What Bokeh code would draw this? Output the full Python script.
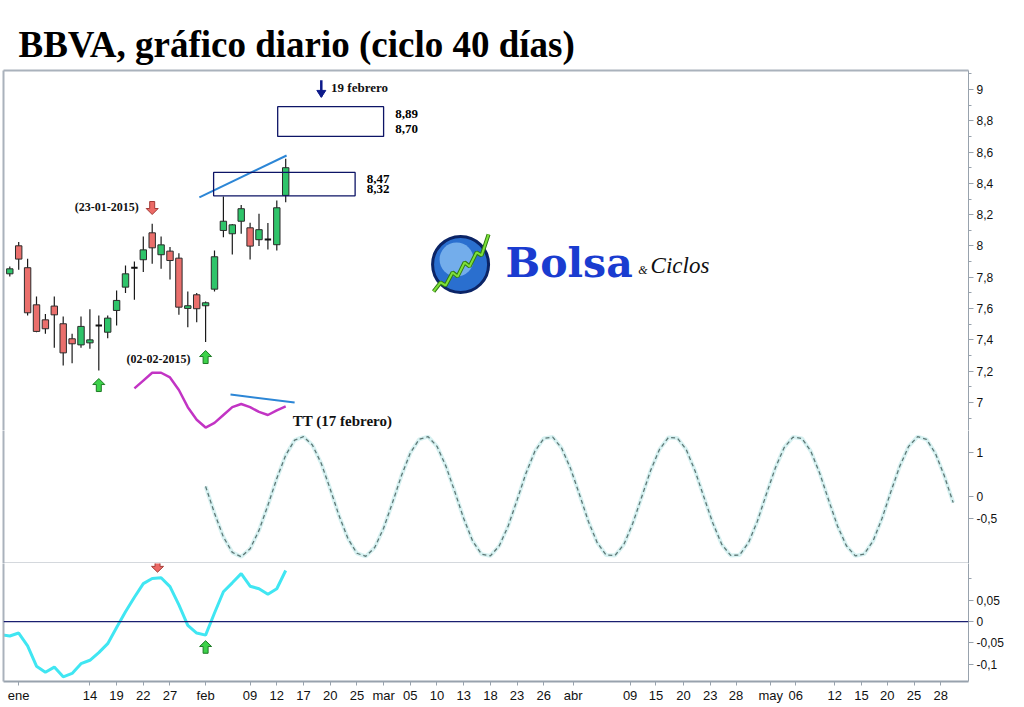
from bokeh.plotting import figure
from bokeh.layouts import column
from bokeh.models import Range1d, FixedTicker, LinearAxis, CustomJSTickFormatter, Span
from bokeh.core.properties import value
from bokeh.embed import file_html
from bokeh.resources import INLINE

# ---------------- data ----------------
# trading-day index 0 = 31-dic-2014 ... 31 = 13-feb-2015
bars = list(range(32))
opens  = [7.822, 8.001, 7.861, 7.624, 7.528, 7.616, 7.503, 7.407, 7.368, 7.381, 7.488, 7.449, 7.588, 7.737, 7.856, 7.912,
          8.084, 7.944, 7.967, 7.922, 7.601, 7.688, 7.618, 7.724, 8.099, 8.078, 8.158, 8.116, 8.040, 8.038, 8.008, 8.323]
closes = [7.854, 7.916, 7.573, 7.454, 7.471, 7.560, 7.317, 7.375, 7.486, 7.400, 7.492, 7.539, 7.652, 7.822, 7.860, 7.975,
          7.988, 8.007, 7.907, 7.609, 7.618, 7.599, 7.637, 7.931, 8.158, 8.135, 8.238, 7.999, 8.104, 8.042, 8.244, 8.500]
highs  = [7.869, 8.025, 7.918, 7.677, 7.566, 7.677, 7.550, 7.439, 7.550, 7.596, 7.556, 7.556, 7.716, 7.875, 7.901, 8.061,
          8.142, 8.061, 7.993, 7.954, 7.709, 7.699, 7.645, 7.971, 8.316, 8.140, 8.262, 8.148, 8.206, 8.146, 8.291, 8.557]
lows   = [7.805, 7.848, 7.556, 7.449, 7.439, 7.349, 7.236, 7.251, 7.349, 7.343, 7.204, 7.411, 7.492, 7.699, 7.656, 7.833,
          7.886, 7.854, 7.786, 7.560, 7.481, 7.513, 7.386, 7.709, 8.056, 7.946, 8.078, 7.914, 7.999, 7.978, 7.971, 8.280]

# momentum line drawn in the price panel (magenta)
mom_idx = list(range(14, 32))
mom_val = [7.09, 7.14, 7.19, 7.19, 7.16, 7.08, 6.97, 6.89, 6.84, 6.87, 6.92, 6.97, 6.99, 6.97, 6.94, 6.92, 6.95, 6.975]

# projected 40-day cycle (middle panel)
cyc_idx = list(range(22, 107))
cyc_val = [0.23, -0.38, -0.92, -1.27, -1.37, -1.19, -0.77, -0.20, 0.41, 0.94, 1.28, 1.36, 1.17, 0.75, 0.17, -0.44,
           -0.96, -1.29, -1.36, -1.16, -0.72, -0.14, 0.47, 0.99, 1.30, 1.36, 1.14, 0.69, 0.11, -0.50, -1.01, -1.31,
           -1.35, -1.12, -0.67, -0.08, 0.53, 1.03, 1.32, 1.35, 1.10, 0.64, 0.05, -0.56, -1.05, -1.33, -1.34, -1.09,
           -0.61, -0.01, 0.59, 1.07, 1.34, 1.33, 1.07, 0.58, -0.02, -0.61, -1.09, -1.34, -1.33, -1.05, -0.56, 0.05,
           0.64, 1.11, 1.35, 1.32, 1.03, 0.53, -0.08, -0.67, -1.12, -1.35, -1.31, -1.01, -0.50, 0.11, 0.69, 1.14,
           1.36, 1.30, 0.98, 0.47, -0.14]

# oscillator (bottom panel)
osc_idx = list(range(-1, 32))
osc_val = [-0.031, -0.034, -0.027, -0.057, -0.105, -0.119, -0.107, -0.130, -0.122, -0.099, -0.091, -0.073, -0.052,
           -0.014, 0.023, 0.057, 0.089, 0.101, 0.103, 0.082, 0.039, -0.009, -0.027, -0.032, 0.020, 0.070, 0.091,
           0.1125, 0.083, 0.077, 0.064, 0.077, 0.120]

# price targets (boxes)
target_lo = [8.70, 8.32]
target_hi = [8.89, 8.47]
target_x0 = [30.1, 22.9]
target_x1 = [42.0, 38.8]

# trend lines
trend_up_x = [21.3, 31.1]
trend_up_y = [8.310, 8.578]
trend_mom_x = [24.8, 32.0]
trend_mom_y = [7.051, 7.000]

# axis ticks
x_ticks = [1, 9, 12, 15, 18, 22, 27, 30, 33, 36, 39, 42, 45, 48, 51, 54, 57, 60,
           63.3, 69.7, 72.6, 75.7, 78.7, 81.6, 85.5, 88.3, 92.7, 95.7, 98.6, 101.6, 104.6]
x_labels = ["ene", "14", "19", "22", "27", "feb", "09", "12", "17", "20", "25", "mar", "05", "10", "13", "18", "23",
            "26", "abr", "09", "15", "20", "23", "28", "may", "06", "12", "15", "20", "25", "28"]
price_ticks = [7.0, 7.2, 7.4, 7.6, 7.8, 8.0, 8.2, 8.4, 8.6, 8.8, 9.0]
price_minor = [6.9, 7.1, 7.3, 7.5, 7.7, 7.9, 8.1, 8.3, 8.5, 8.7, 8.9, 9.1]
cyc_ticks = [-0.5, 0, 1]
osc_ticks = [-0.1, -0.05, 0, 0.05]
osc_minor = [0.1]

# ---------------- layout ----------------
W = 1020
L_BORDER = 3
R_BORDER = 52
FRAME_W = W - L_BORDER - R_BORDER
X_MIN, X_MAX = -0.708, 107.72
TOP_H, TOP_BORDER = 430, 70
TOP_FRAME_H = TOP_H - TOP_BORDER
MID_H = 133
BOT_H, BOT_BORDER = 142, 20
BOT_FRAME_H = BOT_H - BOT_BORDER
PRICE_RANGE = (6.821, 9.121)
CYC_RANGE = (-1.523, 1.5)
OSC_RANGE = (-0.1409, 0.1364)

BORDER = "#aab2bc"
AXIS = "#98a2ad"
NAVY = "#0d1466"
SERIF = "Liberation Serif"
SANS = "Liberation Sans"

xr = Range1d(X_MIN, X_MAX)
bpx = (X_MAX - X_MIN) / FRAME_W


def make_fig(height, yr, top_b, bot_b, xloc=None):
    f = figure(width=W, height=height, x_range=xr, y_range=Range1d(*yr), output_backend="svg",
               toolbar_location=None, y_axis_location="right", x_axis_location=xloc,
               min_border_left=L_BORDER, min_border_right=R_BORDER,
               min_border_top=top_b, min_border_bottom=bot_b)
    f.outline_line_color = None
    f.grid.visible = False
    f.background_fill_color = "white"
    f.border_fill_color = "white"
    return f


def border_axis(f, side):
    ax = LinearAxis(ticker=FixedTicker(ticks=[]), axis_line_color=BORDER, axis_line_width=2,
                    major_tick_line_color=None, minor_tick_line_color=None,
                    major_tick_out=0, major_tick_in=0, minor_tick_out=0, minor_tick_in=0,
                    major_label_standoff=0, major_label_text_font_size="0px")
    f.add_layout(ax, side)


def style_right(f, ticks, minor, code):
    ax = f.right[0]
    ax.ticker = FixedTicker(ticks=ticks, minor_ticks=minor)
    ax.formatter = CustomJSTickFormatter(code=code)
    ax.axis_line_color = AXIS
    ax.major_tick_line_color = AXIS
    ax.minor_tick_line_color = AXIS
    ax.major_tick_out = 5
    ax.major_tick_in = 0
    ax.minor_tick_out = 3
    ax.minor_tick_in = 0
    ax.major_label_standoff = 3
    ax.major_label_text_font = SANS
    ax.major_label_text_font_size = "12px"
    ax.major_label_text_color = "#111111"


def block_arrow(f, x, y_tip, ppx, up, fill, edge):
    s = -1 if up else 1   # direction of the body from the tip, in price units
    pts = [(0, 0), (6, 6), (2.5, 6), (2.5, 13), (-2.5, 13), (-2.5, 6), (-6, 6)]
    xs = [x + dx * bpx for dx, dy in pts]
    ys = [y_tip + s * dy * ppx for dx, dy in pts]
    f.patch(xs, ys, fill_color=fill, line_color=edge, line_width=1)


# ---------------- top: price panel ----------------
top = make_fig(TOP_H, PRICE_RANGE, TOP_BORDER, 0)
top.title.text = "BBVA, gráfico diario (ciclo 40 días)"
top.title.text_font = SERIF
top.title.text_font_style = "bold"
top.title.text_font_size = "37px"
top.title.text_color = "black"
top.title.align = "left"
top.title.offset = 15
top.title.standoff = 12
style_right(top, price_ticks, price_minor, "return String(Math.round(tick*10)/10).replace('.', ',');")
border_axis(top, "left")
border_axis(top, "above")
ppx_top = (PRICE_RANGE[1] - PRICE_RANGE[0]) / TOP_FRAME_H

# candles
body_top = [max(o, c) for o, c in zip(opens, closes)]
body_bot = [min(o, c) for o, c in zip(opens, closes)]
kind = ["doji" if abs(c - o) < 0.01 else ("up" if c > o else "down") for o, c in zip(opens, closes)]
fills = {"up": "#2fc46a", "down": "#ea6f6c", "doji": "black"}
top.segment(x0=bars, y0=highs, x1=bars, y1=lows, line_color="#1a1a1a", line_width=1.2)
for k in ("up", "down"):
    idx = [i for i in bars if kind[i] == k]
    top.vbar(x=idx, top=[body_top[i] for i in idx], bottom=[body_bot[i] for i in idx], width=0.72,
             fill_color=fills[k], line_color="#2b2b2b", line_width=1)
dj = [i for i in bars if kind[i] == "doji"]
top.segment(x0=[i - 0.36 for i in dj], y0=[closes[i] for i in dj], x1=[i + 0.36 for i in dj],
            y1=[closes[i] for i in dj], line_color="#111111", line_width=2)

# momentum (magenta) and trend lines
top.line(mom_idx, mom_val, line_color="#c234c4", line_width=2.5)
top.line(trend_mom_x, trend_mom_y, line_color="#2c86d6", line_width=2)
top.line(trend_up_x, trend_up_y, line_color="#2c86d6", line_width=2)

# target boxes
top.quad(left=target_x0, right=target_x1, bottom=target_lo, top=target_hi, fill_color=None,
         line_color=NAVY, line_width=1.3)
for x1, lo, hi in zip(target_x1, target_lo, target_hi):
    for v, off in ((hi, -7), (lo, 7)):
        top.text(x=[x1 + 1.3], y=[v + off * ppx_top], text=[f"{v:.2f}".replace(".", ",")],
                 text_font=value(SERIF), text_font_style="bold", text_font_size="13px",
                 text_align="left", text_baseline="middle", text_color="black")

# labels and signal arrows
label_kw = dict(text_font=value(SERIF), text_font_style="bold", text_baseline="middle", text_color="#111111")
top.text(x=[14.5], y=[8.246], text=["(23-01-2015)"], text_font_size="12px", text_align="right", **label_kw)
top.text(x=[20.3], y=[7.281], text=["(02-02-2015)"], text_font_size="12px", text_align="right", **label_kw)
top.text(x=[31.8], y=[6.879], text=["TT (17 febrero)"], text_font_size="15px", text_align="left", **label_kw)
top.text(x=[36.1], y=[9.013], text=["19 febrero"], text_font_size="13px", text_align="left", **label_kw)

block_arrow(top, 16, 8.201, ppx_top, False, "#ec6a66", "#a33a36")
block_arrow(top, 10, 7.153, ppx_top, True, "#3dd24a", "#1d7a25")
block_arrow(top, 22, 7.332, ppx_top, True, "#3dd24a", "#1d7a25")

# navy arrow for 19 febrero
top.segment(x0=[35], y0=[9.058], x1=[35], y1=[8.955], line_color="#0d1a8a", line_width=2.5)
top.patch([35 - 4.5 * bpx, 35 + 4.5 * bpx, 35], [8.949 + 7 * ppx_top, 8.949 + 7 * ppx_top, 8.949],
          fill_color="#0d1a8a", line_color="#0d1a8a")

# logo "Bolsa & Ciclos"
gx, gy = 50.65, 7.882
top.scatter([gx], [gy], marker="circle", size=56, fill_color="#2a6fcf", line_color="#0b2466", line_width=3)
top.scatter([gx - 4 * bpx], [gy + 5 * ppx_top], marker="circle", size=34, fill_color="#8cc2f4",
            fill_alpha=0.75, line_color=None)
zig = [(-27, -27), (-20, -18), (-15, -21), (-8, -8), (-3, -12), (4, 2), (9, -2), (16, 12), (21, 9), (28, 30)]
top.line([gx + dx * bpx for dx, dy in zig], [gy + dy * ppx_top for dx, dy in zig],
         line_color="#2f7a12", line_width=4)
top.line([gx + dx * bpx for dx, dy in zig], [gy + dy * ppx_top for dx, dy in zig],
         line_color="#7ee03a", line_width=2)
top.text(x=[55.7], y=[7.888], text=["Bolsa"], text_font=value("DejaVu Serif"), text_font_style="bold",
         text_font_size="41px", text_color="#1a3cd0", text_align="left", text_baseline="middle")
top.text(x=[70.6], y=[7.845], text=["&"], text_font=value(SERIF), text_font_style="italic",
         text_font_size="12px", text_color="#111111", text_align="left", text_baseline="middle")
top.text(x=[72.0], y=[7.875], text=["Ciclos"], text_font=value(SERIF), text_font_style="italic",
         text_font_size="23px", text_color="#111111", text_align="left", text_baseline="middle")

# ---------------- middle: cycle projection ----------------
mid = make_fig(MID_H, CYC_RANGE, 0, 0)
style_right(mid, cyc_ticks, [], "return String(Math.round(tick*10)/10).replace('.', ',');")
border_axis(mid, "left")
border_axis(mid, "below")
mid.line(cyc_idx, cyc_val, line_color="#cdeeee", line_width=4, line_alpha=0.8)
mid.line(cyc_idx, cyc_val, line_color="#5d7876", line_width=1.3, line_dash="4 3")

# ---------------- bottom: oscillator ----------------
bot = make_fig(BOT_H, OSC_RANGE, 0, BOT_BORDER, xloc="below")
style_right(bot, osc_ticks, osc_minor, "return String(Math.round(tick*100)/100).replace('.', ',');")
border_axis(bot, "left")
xa = bot.below[0]
xa.ticker = FixedTicker(ticks=x_ticks, minor_ticks=[])
xa.formatter = CustomJSTickFormatter(args=dict(tick_pos=x_ticks, tick_txt=x_labels), code="""
for (let k = 0; k < tick_pos.length; k++) { if (Math.abs(tick_pos[k] - tick) < 1e-6) return tick_txt[k]; }
return "";""")
xa.axis_line_color = AXIS
xa.axis_line_width = 2
xa.major_tick_line_color = AXIS
xa.major_tick_out = 4
xa.major_tick_in = 0
xa.minor_tick_line_color = None
xa.major_label_standoff = 2
xa.major_label_text_font = SANS
xa.major_label_text_font_size = "13px"
xa.major_label_text_color = "#111111"

ppx_bot = (OSC_RANGE[1] - OSC_RANGE[0]) / BOT_FRAME_H
bot.add_layout(Span(location=0, dimension="width", line_color="#1a1f70", line_width=1.2))
bot.line(osc_idx, osc_val, line_color="#40e6f2", line_width=3)
block_arrow(bot, 16.6, 0.116, ppx_bot, False, "#ec6a66", "#a33a36")
block_arrow(bot, 22, -0.045, ppx_bot, True, "#3dd24a", "#1d7a25")

layout = column(top, mid, bot, spacing=0)
open("out.html", "w").write(file_html(layout, INLINE))
